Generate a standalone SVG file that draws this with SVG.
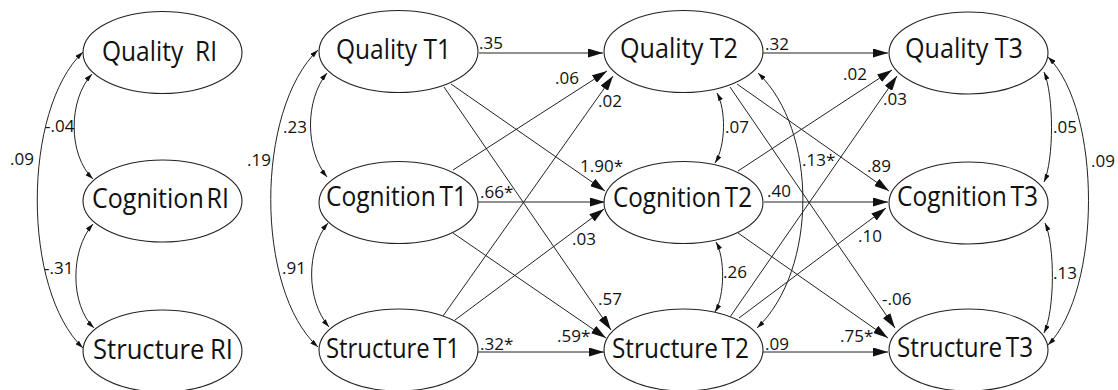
<svg xmlns="http://www.w3.org/2000/svg" width="1118" height="390" viewBox="0 0 1118 390">
<style>
.n ellipse{fill:#fff;stroke:#222;stroke-width:1.1}
.n text{font-family:"Open Sans","Noto Sans",sans-serif;font-size:27px;fill:#111}
.c path,.c line{fill:none;stroke:#222;stroke-width:1}
.reg{marker-end:url(#ah)}
.cor{marker-start:url(#sh);marker-end:url(#sh)}
.lb text{font-family:"Open Sans","Noto Sans",sans-serif;font-size:17px;fill:#111}
</style>
<defs>
<marker id="ah" viewBox="0 0 15 9" refX="15" refY="4.5" markerWidth="15" markerHeight="9" markerUnits="userSpaceOnUse" orient="auto"><path d="M0,0 L15,4.5 L0,9 Z" fill="#111"/></marker>
<marker id="sh" viewBox="0 0 8 5" refX="8" refY="2.5" markerWidth="8" markerHeight="5" markerUnits="userSpaceOnUse" orient="auto-start-reverse"><path d="M0,0 L8,2.5 L0,5 Z" fill="#111"/></marker>
</defs>
<rect width="1118" height="390" fill="#fff"/>
<g class="c" id="connectors">
<path class="cor" d="M92,74 C68,100 68,155 93,179"/>
<path class="cor" d="M93,224 C70,250 70,305 94,328"/>
<path class="cor" d="M83,52 C22,110 22,290 83,348"/>
<path class="cor" d="M327,73 C305,100 305,150 327,177"/>
<path class="cor" d="M328,223 C306,250 306,300 329,327"/>
<path class="cor" d="M318,50 C255,110 255,290 318,347"/>
<path class="cor" d="M717,93 C726,110 726,145 715,163"/>
<path class="cor" d="M716,242 C725,258 725,295 715,312"/>
<path class="cor" d="M758,73 C818,130 818,270 757,328"/>
<path class="cor" d="M1044,72 C1054,95 1054,160 1044,182"/>
<path class="cor" d="M1045,223 C1055,245 1055,310 1044,333"/>
<path class="cor" d="M1048,57 C1102,110 1102,290 1048,345"/>
<line class="reg" x1="479" y1="53" x2="603" y2="53"/>
<line class="reg" x1="451" y1="84" x2="605" y2="191"/>
<line class="reg" x1="444" y1="87" x2="611" y2="330"/>
<line class="reg" x1="453" y1="170" x2="607" y2="71"/>
<line class="reg" x1="477" y1="202" x2="605" y2="202"/>
<line class="reg" x1="453" y1="233" x2="606" y2="338"/>
<line class="reg" x1="443" y1="316" x2="613" y2="76"/>
<line class="reg" x1="455" y1="320" x2="604" y2="209"/>
<line class="reg" x1="477" y1="352" x2="604" y2="352"/>
<line class="reg" x1="763" y1="53" x2="888" y2="53"/>
<line class="reg" x1="737" y1="84" x2="889" y2="191"/>
<line class="reg" x1="730" y1="87" x2="895" y2="328"/>
<line class="reg" x1="738" y1="171" x2="892" y2="70"/>
<line class="reg" x1="764" y1="202" x2="888" y2="202"/>
<line class="reg" x1="738" y1="233" x2="888" y2="338"/>
<line class="reg" x1="730" y1="317" x2="897" y2="76"/>
<line class="reg" x1="739" y1="318" x2="886" y2="208"/>
<line class="reg" x1="763" y1="352" x2="888" y2="352"/>
</g>
<g class="n" id="quality-ri"><ellipse cx="162.5" cy="52.5" rx="79.5" ry="41"/><text x="102" y="61" textLength="115" lengthAdjust="spacingAndGlyphs" word-spacing="6">Quality RI</text></g>
<g class="n" id="cognition-ri"><ellipse cx="162.5" cy="201" rx="79.5" ry="41"/><text x="92" y="208" textLength="137" lengthAdjust="spacingAndGlyphs" word-spacing="-4">Cognition RI</text></g>
<g class="n" id="structure-ri"><ellipse cx="162.5" cy="351" rx="79.5" ry="41"/><text x="93" y="359" textLength="140" lengthAdjust="spacingAndGlyphs" word-spacing="-1">Structure RI</text></g>
<g class="n" id="quality-t1"><ellipse cx="398.5" cy="51.5" rx="79.5" ry="41"/><text x="336" y="59" textLength="115" lengthAdjust="spacingAndGlyphs">Quality T1</text></g>
<g class="n" id="cognition-t1"><ellipse cx="398.5" cy="202.5" rx="79.5" ry="41"/><text x="326" y="206" textLength="141" lengthAdjust="spacingAndGlyphs" word-spacing="-3">Cognition T1</text></g>
<g class="n" id="structure-t1"><ellipse cx="398.5" cy="350" rx="79.5" ry="41"/><text x="326" y="358" textLength="134" lengthAdjust="spacingAndGlyphs" word-spacing="-3">Structure T1</text></g>
<g class="n" id="quality-t2"><ellipse cx="683.5" cy="51.5" rx="79.5" ry="41"/><text x="620" y="58" textLength="118" lengthAdjust="spacingAndGlyphs">Quality T2</text></g>
<g class="n" id="cognition-t2"><ellipse cx="683.5" cy="202.5" rx="79.5" ry="41"/><text x="613" y="207" textLength="139" lengthAdjust="spacingAndGlyphs" word-spacing="-3">Cognition T2</text></g>
<g class="n" id="structure-t2"><ellipse cx="683.5" cy="350" rx="79.5" ry="41"/><text x="612" y="358" textLength="137" lengthAdjust="spacingAndGlyphs" word-spacing="-3">Structure T2</text></g>
<g class="n" id="quality-t3"><ellipse cx="968.5" cy="53" rx="79.5" ry="41"/><text x="905" y="58" textLength="118" lengthAdjust="spacingAndGlyphs">Quality T3</text></g>
<g class="n" id="cognition-t3"><ellipse cx="968.5" cy="203" rx="79.5" ry="41"/><text x="897" y="206" textLength="141" lengthAdjust="spacingAndGlyphs" word-spacing="-3">Cognition T3</text></g>
<g class="n" id="structure-t3"><ellipse cx="968.5" cy="350" rx="79.5" ry="41"/><text x="897" y="357" textLength="136" lengthAdjust="spacingAndGlyphs" word-spacing="-3">Structure T3</text></g>
<g class="lb" id="labels">
<text x="45" y="132">-.04</text>
<text x="10" y="165">.09</text>
<text x="44" y="274">-.31</text>
<text x="247" y="166">.19</text>
<text x="283" y="133">.23</text>
<text x="282" y="274">.91</text>
<text x="479" y="49">.35</text>
<text x="480" y="198">.66*</text>
<text x="480" y="350">.32*</text>
<text x="555" y="84">.06</text>
<text x="598" y="107">.02</text>
<text x="580" y="172">1.90*</text>
<text x="572" y="245">.03</text>
<text x="598" y="305">.57</text>
<text x="557" y="342">.59*</text>
<text x="765" y="50">.32</text>
<text x="725" y="133">.07</text>
<text x="802" y="166">.13*</text>
<text x="767" y="197">.40</text>
<text x="723" y="278">.26</text>
<text x="765" y="350">.09</text>
<text x="843" y="80">.02</text>
<text x="883" y="105">.03</text>
<text x="867" y="172">.89</text>
<text x="858" y="242">.10</text>
<text x="882" y="305">-.06</text>
<text x="840" y="342">.75*</text>
<text x="1053" y="133">.05</text>
<text x="1091" y="167">.09</text>
<text x="1053" y="279">.13</text>
</g>
</svg>
